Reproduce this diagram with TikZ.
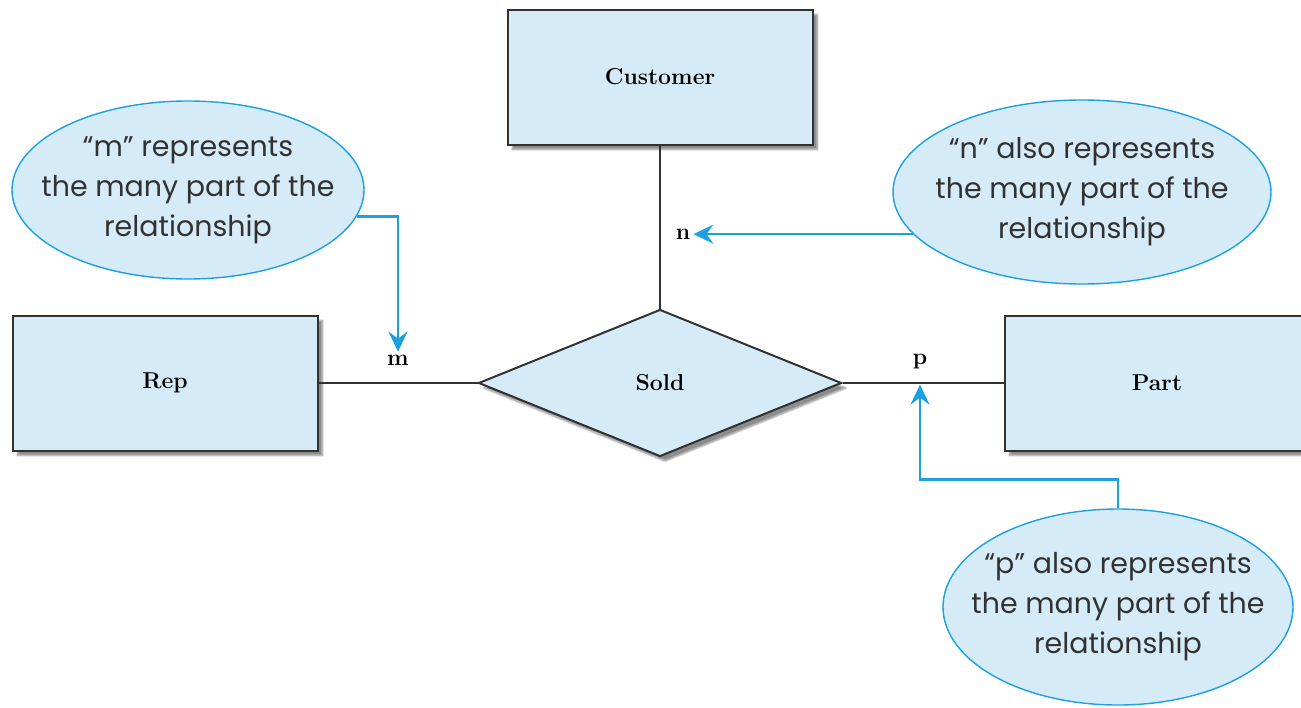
\documentclass[tikz,border=0pt]{standalone}
\usepackage{fontspec}
\setsansfont{Poppins}
\usetikzlibrary{shapes.geometric,arrows.meta,shadows.blur}
\definecolor{entfill}{RGB}{214,235,248}
\definecolor{noteblue}{RGB}{27,161,226}
\definecolor{edgegray}{RGB}{50,50,50}
\definecolor{notetext}{RGB}{50,50,50}
\begin{document}
\begin{tikzpicture}[x=1pt,y=-1pt,
  entity/.style={draw=edgegray,line width=2pt,fill=entfill,rectangle,
    minimum width=305pt,minimum height=135pt,inner sep=0pt,
    font=\fontsize{23}{27}\selectfont\bfseries,
    blur shadow={shadow xshift=5pt,shadow yshift=-5pt,shadow blur steps=6,shadow opacity=45}},
  relship/.style={draw=edgegray,line width=2pt,fill=entfill,diamond,
    minimum width=363pt,minimum height=147pt,inner sep=0pt,
    font=\fontsize{23}{27}\selectfont\bfseries,
    blur shadow={shadow xshift=5pt,shadow yshift=-5pt,shadow blur steps=6,shadow opacity=45}},
  link/.style={draw=edgegray,line width=2pt},
  card/.style={font=\fontsize{23}{27}\selectfont\bfseries,inner sep=3pt},
  note/.style={ellipse,draw=noteblue,line width=1.4pt,fill=entfill,
    inner xsep=-60pt,inner ysep=-20pt,
    align=center,text=notetext,font=\sffamily\fontsize{28.5}{40}\selectfont},
  pointer/.style={draw=noteblue,line width=2.6pt,-{Stealth[length=20pt,width=19pt,inset=7pt]}}
]
\useasboundingbox (0,0) rectangle (1301,707);

% entities and the relationship
\node[entity] (cust) at (660,77) {Customer};
\node[entity] (rep) at (165,383) {Rep};
\node[entity] (part) at (1157,383) {Part};
\node[relship] (sold) at (660,383) {Sold};

\draw[link] (cust.south) -- (sold.north);
\draw[link] (rep.east) -- (sold.west);
\draw[link] (sold.east) -- (part.west);

% cardinality labels
\node[card] (lm) at (398,360) {m};
\node[card] (ln) at (683,234) {n};
\node[card] (lp) at (920,362) {p};

% explanatory notes
\node[note,minimum width=352pt,minimum height=178pt] (c1) at (188,190)
  {``m'' represents\\the many part of the\\relationship};
\node[note,minimum width=378pt,minimum height=184pt] (c2) at (1082,192)
  {``n'' also represents\\the many part of the\\relationship};
\node[note,minimum width=350pt,minimum height=196pt] (c3) at (1118,607)
  {``p'' also represents\\the many part of the\\relationship};

\draw[pointer] (c1.-9) -| (lm.north);
\draw[pointer] (c2.194) -- (c2.194 -| ln.east);
\draw[pointer,shorten >=12pt] (c3.north) -- ++(0,-29) -| (lp.south);
\end{tikzpicture}
\end{document}
